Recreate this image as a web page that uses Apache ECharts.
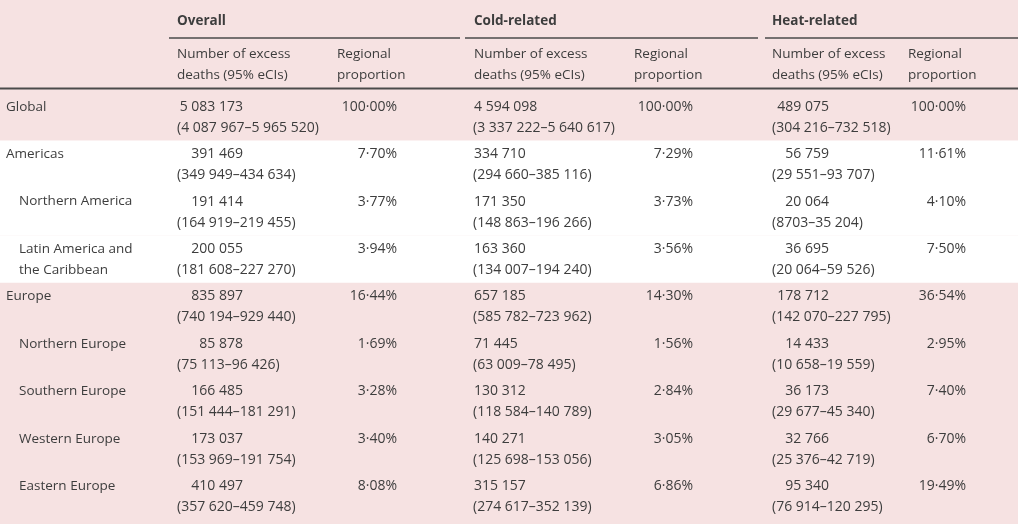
<!DOCTYPE html>
<html>
<head>
<meta charset="utf-8">
<title>Excess deaths by region</title>
<style>
  * { margin: 0; padding: 0; }
  html, body { width: 1018px; height: 524px; overflow: hidden; background: #f6e2e2; }
  #main { width: 1018px; height: 524px; }
</style>
</head>
<body>
<div id="main"></div>
<script src="https://cdn.jsdelivr.net/npm/echarts@6/dist/echarts.min.js"></script>
<script>
// ---- data ----
var groupNames = ['Overall', 'Cold-related', 'Heat-related'];
var subHeadDeaths = ['Number of excess', 'deaths (95% eCIs)'];
var subHeadShare = ['Regional', 'proportion'];

var regions = ['Global', 'Americas', 'Northern America', 'Latin America and\nthe Caribbean',
  'Europe', 'Northern Europe', 'Southern Europe', 'Western Europe', 'Eastern Europe'];
var regionLevel = [0, 0, 1, 1, 0, 1, 1, 1, 1];
var regionGroup = ['Global', 'Americas', 'Americas', 'Americas',
  'Europe', 'Europe', 'Europe', 'Europe', 'Europe'];

var overallDeaths = [5083173, 391469, 191414, 200055, 835897, 85878, 166485, 173037, 410497];
var overallLow = [4087967, 349949, 164919, 181608, 740194, 75113, 151444, 153969, 357620];
var overallHigh = [5965520, 434634, 219455, 227270, 929440, 96426, 181291, 191754, 459748];
var overallShare = [100.00, 7.70, 3.77, 3.94, 16.44, 1.69, 3.28, 3.40, 8.08];

var coldDeaths = [4594098, 334710, 171350, 163360, 657185, 71445, 130312, 140271, 315157];
var coldLow = [3337222, 294660, 148863, 134007, 585782, 63009, 118584, 125698, 274617];
var coldHigh = [5640617, 385116, 196266, 194240, 723962, 78495, 140789, 153056, 352139];
var coldShare = [100.00, 7.29, 3.73, 3.56, 14.30, 1.56, 2.84, 3.05, 6.86];

var heatDeaths = [489075, 56759, 20064, 36695, 178712, 14433, 36173, 32766, 95340];
var heatLow = [304216, 29551, 8703, 20064, 142070, 10658, 29677, 25376, 76914];
var heatHigh = [732518, 93707, 35204, 59526, 227795, 19559, 45340, 42719, 120295];
var heatShare = [100.00, 11.61, 4.10, 7.50, 36.54, 2.95, 7.40, 6.70, 19.49];

// ---- layout / style ----
var TEXT = '#3d3d3d';
var LINE = '#4a4a4a';
var FONT = '13.5px "Open Sans"';
var NUMFONT = '14px "Open Sans"';
var W = 1018;

// per block: title x, number anchor (+align), CI left, share right edge, share header x
var blocks = [
  { deaths: overallDeaths, low: overallLow, high: overallHigh, share: overallShare,
    x: 177, numX: 243, numAlign: 'right', ciX: 177, shareX: 397, shareHeadX: 337, line: [169, 460] },
  { deaths: coldDeaths, low: coldLow, high: coldHigh, share: coldShare,
    x: 474, numX: 474, numAlign: 'left', ciX: 473, shareX: 693, shareHeadX: 634, line: [465, 758] },
  { deaths: heatDeaths, low: heatLow, high: heatHigh, share: heatShare,
    x: 772, numX: 829, numAlign: 'right', ciX: 772, shareX: 966, shareHeadX: 908, line: [765, W] }
];

function fmtNum(n) {
  var s = String(n);
  if (s.length <= 4) return s;
  return s.replace(/\B(?=(\d{3})+(?!\d))/g, ' ');
}
function fmtShare(v) {
  return v.toFixed(2).replace('.', '\u00b7') + '%';
}
function txt(s, x, y, align, font) {
  return {
    type: 'text',
    style: {
      text: s, x: x, y: y,
      align: align, verticalAlign: 'middle',
      textAlign: align, textVerticalAlign: 'middle',
      font: font || FONT, fill: TEXT
    }
  };
}

var chart = echarts.init(document.getElementById('main'));

function renderRow(params, api) {
  var i = params.dataIndex;
  var c = api.coord([0, i]);
  var h = api.size([0, 1])[1];
  var yc = c[1];
  var y1 = yc - 10, y2 = yc + 11;
  var kids = [];
  if (regionGroup[i] === 'Americas') {
    kids.push({ type: 'rect', shape: { x: 0, y: yc - h / 2, width: W, height: h }, style: { fill: '#ffffff' } });
  }
  var lx = regionLevel[i] ? 19 : 6;
  var lines = regions[i].split('\n');
  kids.push(txt(lines[0], lx, y1, 'left'));
  if (lines[1]) kids.push(txt(lines[1], lx, y2, 'left'));
  blocks.forEach(function (b) {
    kids.push(txt(fmtNum(b.deaths[i]), b.numX, y1, b.numAlign, NUMFONT));
    kids.push(txt('(' + fmtNum(b.low[i]) + '\u2013' + fmtNum(b.high[i]) + ')', b.ciX, y2, 'left', NUMFONT));
    kids.push(txt(fmtShare(b.share[i]), b.shareX, y1, 'right', NUMFONT));
  });
  return { type: 'group', children: kids };
}

// header graphics
var header = [];
blocks.forEach(function (b, k) {
  header.push(txt(groupNames[k], b.x, 21, 'left', 'bold ' + FONT));
  header.push({ type: 'line', shape: { x1: b.line[0], y1: 38, x2: b.line[1], y2: 38 },
    style: { stroke: LINE, lineWidth: 1.5 } });
  header.push(txt(subHeadDeaths[0], b.x, 54, 'left'));
  header.push(txt(subHeadDeaths[1], b.x, 75, 'left'));
  header.push(txt(subHeadShare[0], b.shareHeadX, 54, 'left'));
  header.push(txt(subHeadShare[1], b.shareHeadX, 75, 'left'));
});
header.push({ type: 'line', shape: { x1: 0, y1: 88.5, x2: W, y2: 88.5 },
  style: { stroke: LINE, lineWidth: 2 } });

var option = {
  backgroundColor: '#f6e2e2',
  animation: false,
  grid: { left: 0, right: 0, top: 93, height: 427 },
  xAxis: { type: 'value', min: 0, max: W, show: false },
  yAxis: { type: 'category', data: regions, inverse: true, show: false },
  graphic: header,
  series: [{
    type: 'custom',
    silent: true,
    renderItem: renderRow,
    encode: { x: 0, y: 1 },
    data: regions.map(function (r, i) { return [0, i]; })
  }]
};
chart.setOption(option);
</script>
</body>
</html>
